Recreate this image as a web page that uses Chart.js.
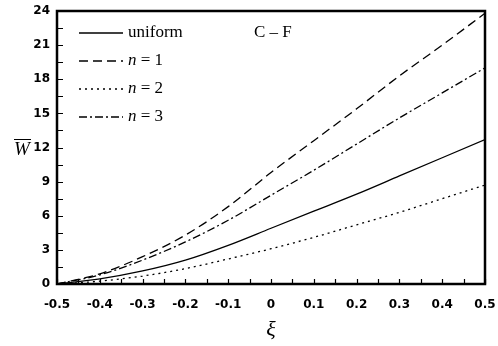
<!DOCTYPE html>
<html>
<head>
<meta charset="utf-8">
<script src="https://cdn.jsdelivr.net/npm/chart.js@4/dist/chart.umd.min.js"></script>
<style>
  html, body { margin: 0; padding: 0; background: #fff; }
</style>
</head>
<body>
<canvas id="deflChart" width="498" height="346"></canvas>
<script>
// thickness coordinate and deflection for each grading case
const xi = [-0.5, -0.4, -0.3, -0.2, -0.1, 0, 0.1, 0.2, 0.3, 0.4, 0.5];
const wUniform = [0, 0.45, 1.15, 2.1, 3.4, 4.9, 6.4, 7.9, 9.5, 11.1, 12.7];
const wN1 = [0, 0.9, 2.4, 4.3, 6.8, 9.8, 12.6, 15.4, 18.3, 21.0, 23.8];
const wN2 = [0, 0.25, 0.7, 1.35, 2.2, 3.1, 4.1, 5.2, 6.3, 7.5, 8.7];
const wN3 = [0, 0.8, 2.1, 3.7, 5.6, 7.8, 10.0, 12.3, 14.6, 16.8, 19.0];

const xTicks = [-0.5, -0.4, -0.3, -0.2, -0.1, 0, 0.1, 0.2, 0.3, 0.4, 0.5];
const yTicks = [0, 3, 6, 9, 12, 15, 18, 21, 24];

const seriesNames = ["uniform", "n = 1", "n = 2", "n = 3"];

const toPts = ys => xi.map((x, i) => ({ x: x, y: ys[i] }));

const line = (label, ys, dash) => ({
  label: label,
  data: toPts(ys),
  borderColor: "#000",
  borderWidth: 1.3,
  borderDash: dash,
  pointRadius: 0,
  cubicInterpolationMode: "monotone",
  fill: false
});

const tickFont = { family: "'DejaVu Sans'", size: 12, weight: "bold" };

// box frame, inward ticks, in-plot legend and axis symbols
const decor = {
  id: "decor",
  afterDraw(chart) {
    const ctx = chart.ctx;
    const a = chart.chartArea;
    const xs = chart.scales.x, ys = chart.scales.y;
    ctx.save();
    ctx.strokeStyle = "#000";

    ctx.lineWidth = 1.2;
    ctx.beginPath();
    for (let v = -0.5; v <= 0.5001; v += 0.05) {
      const px = Math.round(xs.getPixelForValue(v)) + 0.5;
      ctx.moveTo(px, a.bottom);
      ctx.lineTo(px, a.bottom - 5);
    }
    for (let v = 0; v <= 24.001; v += 1.5) {
      const py = Math.round(ys.getPixelForValue(v)) + 0.5;
      ctx.moveTo(a.left, py);
      ctx.lineTo(a.left + 6, py);
    }
    ctx.stroke();

    ctx.lineWidth = 2.5;
    ctx.strokeRect(a.left, a.top, a.right - a.left, a.bottom - a.top);

    // legend
    ctx.fillStyle = "#000";
    ctx.textBaseline = "middle";
    chart.data.datasets.forEach((ds, i) => {
      const y = 33 + i * 28;
      ctx.lineWidth = ds.borderWidth;
      ctx.setLineDash(ds.borderDash || []);
      ctx.beginPath();
      ctx.moveTo(79, y);
      ctx.lineTo(123, y);
      ctx.stroke();
      ctx.setLineDash([]);
      if (i === 0) {
        ctx.font = "17px 'Liberation Serif'";
        ctx.fillText(seriesNames[i], 128, y);
      } else {
        ctx.font = "italic 17px 'Liberation Serif'";
        ctx.fillText("n", 128, y);
        const w = ctx.measureText("n").width;
        ctx.font = "17px 'Liberation Serif'";
        ctx.fillText(seriesNames[i].slice(1), 128 + w, y);
      }
    });

    ctx.font = "17px 'Liberation Serif'";
    ctx.fillText("C \u2013 F", 254, 33);

    // axis symbols
    ctx.textAlign = "center";
    ctx.font = "italic 22px 'Liberation Serif'";
    ctx.fillText("\u03BE", (a.left + a.right) / 2, 330);

    ctx.font = "italic 19px 'Liberation Serif'";
    ctx.fillText("W", 22, 150);
    ctx.lineWidth = 1;
    ctx.beginPath();
    ctx.moveTo(14, 139.5);
    ctx.lineTo(31, 139.5);
    ctx.stroke();
    ctx.restore();
  }
};

new Chart(document.getElementById("deflChart"), {
  type: "line",
  data: {
    datasets: [
      line(seriesNames[0], wUniform, []),
      line(seriesNames[1], wN1, [9, 5]),
      line(seriesNames[2], wN2, [2, 4]),
      line(seriesNames[3], wN3, [8, 3, 2, 3])
    ]
  },
  options: {
    responsive: false,
    animation: false,
    layout: { padding: { top: 11, right: 13, left: 0, bottom: 0 } },
    scales: {
      x: {
        type: "linear",
        min: -0.5,
        max: 0.5,
        afterBuildTicks: s => { s.ticks = xTicks.map(v => ({ value: v })); },
        afterFit: s => { s.height = 62; s.paddingLeft = 0; s.paddingRight = 0; },
        grid: { display: false, drawTicks: false },
        border: { display: false },
        ticks: {
          color: "#000",
          font: tickFont,
          padding: 14,
          maxRotation: 0,
          autoSkip: false,
          callback: v => (v === 0 ? "0" : v.toFixed(1))
        }
      },
      y: {
        min: 0,
        max: 24,
        afterBuildTicks: s => { s.ticks = yTicks.map(v => ({ value: v })); },
        afterFit: s => { s.width = 57; s.paddingTop = 0; s.paddingBottom = 0; },
        grid: { display: false, drawTicks: false },
        border: { display: false },
        ticks: {
          color: "#000",
          font: tickFont,
          padding: 7,
          autoSkip: false,
          callback: v => String(v)
        }
      }
    },
    plugins: {
      legend: { display: false },
      tooltip: { enabled: false }
    }
  },
  plugins: [decor]
});
</script>
</body>
</html>
